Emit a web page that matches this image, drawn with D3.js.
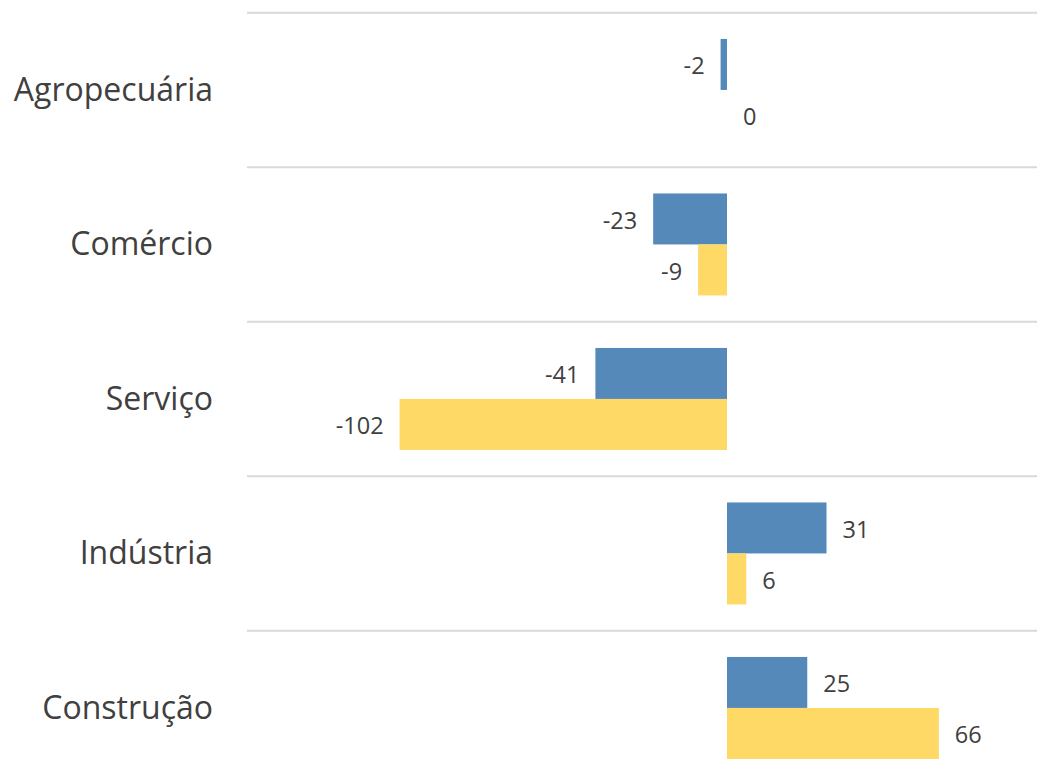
<!DOCTYPE html>
<html>
<head>
<meta charset="utf-8">
<script src="https://cdn.jsdelivr.net/npm/d3@7"></script>
<style>
  html, body { margin: 0; padding: 0; background: #ffffff; }
  svg { display: block; }
</style>
</head>
<body>
<svg id="chart" width="1037" height="779"></svg>
<script>
// Sector categories and the two series of values
const categories = ["Agropecuária", "Comércio", "Serviço", "Indústria", "Construção"];
const seriesNames = ["serieA", "serieB"];
const serieA = [-2, -23, -41, 31, 25];
const serieB = [0, -9, -102, 6, 66];
const seriesColors = ["#5589b9", "#fed966"];

const svg = d3.select("#chart");

// Layout
const plotLeft = 247, plotRight = 1037;
const plotTop = 12.7, bandStep = 154.5;

const x = d3.scaleLinear()
  .domain([-102, 66])
  .range([727 - 102 * 3.21, 727 + 66 * 3.21]);

const y = d3.scaleBand()
  .domain(categories)
  .range([plotTop, plotTop + bandStep * categories.length])
  .paddingInner(0)
  .paddingOuter(0);

const ySub = d3.scaleBand()
  .domain(seriesNames)
  .range([0, y.bandwidth()])
  .paddingInner(0)
  .paddingOuter(0.515);

// Horizontal separators at each band boundary
const gridYs = categories.map(c => y(c)).concat([y(categories[categories.length - 1]) + y.bandwidth()]);
svg.append("g")
  .selectAll("line")
  .data(gridYs)
  .join("line")
  .attr("x1", plotLeft)
  .attr("x2", plotRight)
  .attr("y1", d => d)
  .attr("y2", d => d)
  .attr("stroke", "#d9d9d9")
  .attr("stroke-width", 2);

// Flatten data for bars
const rows = [];
categories.forEach((c, i) => {
  rows.push({ cat: c, s: "serieA", v: serieA[i], color: seriesColors[0] });
  rows.push({ cat: c, s: "serieB", v: serieB[i], color: seriesColors[1] });
});

svg.append("g")
  .selectAll("rect")
  .data(rows)
  .join("rect")
  .attr("x", d => Math.min(x(0), x(d.v)))
  .attr("width", d => Math.abs(x(d.v) - x(0)))
  .attr("y", d => y(d.cat) + ySub(d.s))
  .attr("height", ySub.bandwidth())
  .attr("fill", d => d.color);

// Value labels
svg.append("g")
  .selectAll("text")
  .data(rows)
  .join("text")
  .attr("x", d => d.v < 0 ? x(d.v) - 16 : x(d.v) + 16)
  .attr("y", d => y(d.cat) + ySub(d.s) + ySub.bandwidth() / 2 + 10)
  .attr("text-anchor", d => d.v < 0 ? "end" : "start")
  .attr("font-family", "'Open Sans', sans-serif")
  .attr("font-size", 23.5)
  .attr("fill", "#404040")
  .text(d => d.v);

// Category labels
svg.append("g")
  .selectAll("text")
  .data(categories)
  .join("text")
  .attr("x", 213)
  .attr("y", d => y(d) + y.bandwidth() / 2 + 11)
  .attr("text-anchor", "end")
  .attr("font-family", "'Open Sans', sans-serif")
  .attr("font-size", 32)
  .attr("fill", "#404040")
  .text(d => d);
</script>
</body>
</html>
